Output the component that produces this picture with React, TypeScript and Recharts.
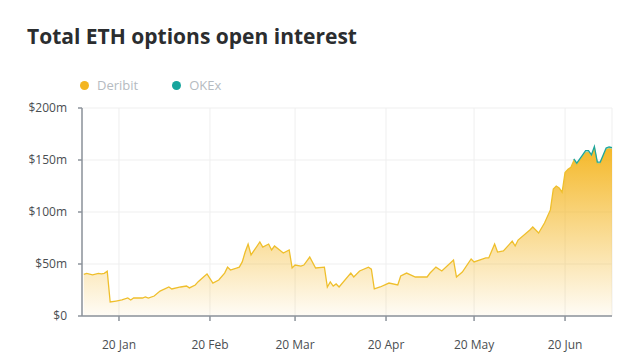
import React from 'react';
import { AreaChart, Area, XAxis, YAxis, CartesianGrid } from 'recharts';

// day of year (1 Jan = 0) and open interest in $m
const days = [
  7, 8, 10, 12, 13, 14, 15, 16, 18, 20, 22, 23, 24, 27, 28, 29, 31, 33, 36, 37,
  40, 42, 43, 45, 46, 48, 49, 51, 53, 55, 56, 57, 59, 60, 61, 62, 63, 64, 67, 68,
  70, 71, 72, 75, 77, 78, 79, 81, 82, 84, 86, 89, 90, 91, 92, 93, 94, 98, 99, 101,
  104, 105, 106, 108, 111, 114, 115, 117, 120, 124, 125, 127, 129, 133, 134, 136, 139, 140, 144, 145,
  147, 148, 150, 153, 154, 155, 159, 160, 162, 164, 166, 167, 168, 169, 170, 171, 172, 173, 174, 175, 177,
  178, 179, 180, 181, 182, 183, 185, 186, 187,
];

const deribit = [
  40, 41, 39.5, 41, 40.5, 41, 43, 13.5, 14.4, 15.4, 17.3, 15.4, 17.3, 17.3, 18.3, 17.3, 19.2, 24, 27.9, 26,
  27.9, 28.8, 27, 29.8, 33, 38, 40.4, 31.7, 34.6, 41.3, 47, 44.2, 46, 47, 52, 61.5, 69.2, 58.7, 71.2, 66.3,
  69.2, 63.5, 67.3, 60.6, 63.5, 46.2, 49, 48, 49, 56.7, 46.2, 47, 27.9, 32.7, 28.8, 30.8, 27.9, 41.3, 37.5, 43.3,
  47, 45, 26, 27.9, 31.7, 29.8, 38.5, 41.3, 37.5, 37.5, 41.3, 47, 43.3, 53.8, 37.5, 42.3, 54.8, 52, 55.8, 55.8,
  69.2, 61.5, 62.5, 72, 67.3, 73, 82.7, 85.6, 79.8, 89.4, 102, 122, 125, 123, 119, 138, 141, 143, 149.5, 145.5, 153.5,
  157, 157.5, 153.5, 161.5, 146.5, 146.5, 160, 161, 160.5,
];

const okex = [
  null, null, null, null, null, null, null, null, null, null, null, null, null, null, null, null, null, null, null, null,
  null, null, null, null, null, null, null, null, null, null, null, null, null, null, null, null, null, null, null, null,
  null, null, null, null, null, null, null, null, null, null, null, null, null, null, null, null, null, null, null, null,
  null, null, null, null, null, null, null, null, null, null, null, null, null, null, null, null, null, null, null, null,
  null, null, null, null, null, null, null, null, null, null, null, null, null, null, null, null, null, null, 1.5, 1.5, 1.5,
  2, 1.5, 1.5, 1.5, 1.5, 1.5, 1.5, 1.5, 1.5,
];

const xTicks = [19, 50, 79, 110, 140, 171];
const xTickLabels = ['20 Jan', '20 Feb', '20 Mar', '20 Apr', '20 May', '20 Jun'];
const yTicks = [0, 50, 100, 150, 200];

const data = days.map((d, i) => ({ day: d, deribit: deribit[i], okex: okex[i] }));

const FONT = '"Open Sans", sans-serif';
const AXIS = '#8c939b';
const TICK = { fill: '#4a4e52', fontSize: 12, fontFamily: FONT };

const LegendItem = ({ color, label }: { color: string; label: string }) => (
  <div style={{ display: 'flex', alignItems: 'center', marginRight: 34 }}>
    <span style={{ width: 9, height: 9, borderRadius: '50%', background: color, marginRight: 8 }} />
    <span style={{ color: '#b5bbc1', fontSize: 13 }}>{label}</span>
  </div>
);

export default function App() {
  return (
    <div style={{ position: 'absolute', left: 0, top: 0, width: 640, height: 360, background: '#fff', fontFamily: FONT }}>
      <div style={{ position: 'absolute', left: 27, top: 22, fontSize: 21, fontWeight: 700, color: '#2b2d2f' }}>
        Total ETH options open interest
      </div>
      <div style={{ position: 'absolute', left: 80, top: 76, display: 'flex' }}>
        <LegendItem color="#f3b522" label="Deribit" />
        <LegendItem color="#17a59d" label="OKEx" />
      </div>
      <AreaChart width={640} height={360} data={data} margin={{ top: 108, right: 28, bottom: 0, left: 0 }}>
        <defs>
          <linearGradient id="deribitFill" x1="0" y1="0" x2="0" y2="1">
            <stop offset="0%" stopColor="#f4b51f" stopOpacity={0.95} />
            <stop offset="100%" stopColor="#f4b51f" stopOpacity={0.04} />
          </linearGradient>
        </defs>
        <CartesianGrid stroke="#efefef" />
        <XAxis
          dataKey="day"
          type="number"
          domain={[6.4, 187]}
          ticks={xTicks}
          tickFormatter={(v: number) => xTickLabels[xTicks.indexOf(v)]}
          height={44}
          tickSize={5}
          tickMargin={19}
          tick={TICK}
          stroke={AXIS}
          strokeWidth={1.5}
        />
        <YAxis
          domain={[0, 200]}
          ticks={yTicks}
          tickFormatter={(v: number) => (v === 0 ? '$0' : `$${v}m`)}
          width={82}
          tickSize={4}
          tickMargin={11}
          tick={TICK}
          stroke={AXIS}
          strokeWidth={1.5}
        />
        <Area
          type="linear"
          dataKey="deribit"
          stackId="oi"
          stroke="#efbf2c"
          strokeWidth={1.3}
          fill="url(#deribitFill)"
          fillOpacity={1}
          isAnimationActive={false}
        />
        <Area
          type="linear"
          dataKey="okex"
          stackId="oi"
          stroke="#1fa69c"
          strokeWidth={1.3}
          fill="#8fd0c9"
          fillOpacity={0.5}
          isAnimationActive={false}
        />
      </AreaChart>
    </div>
  );
}
